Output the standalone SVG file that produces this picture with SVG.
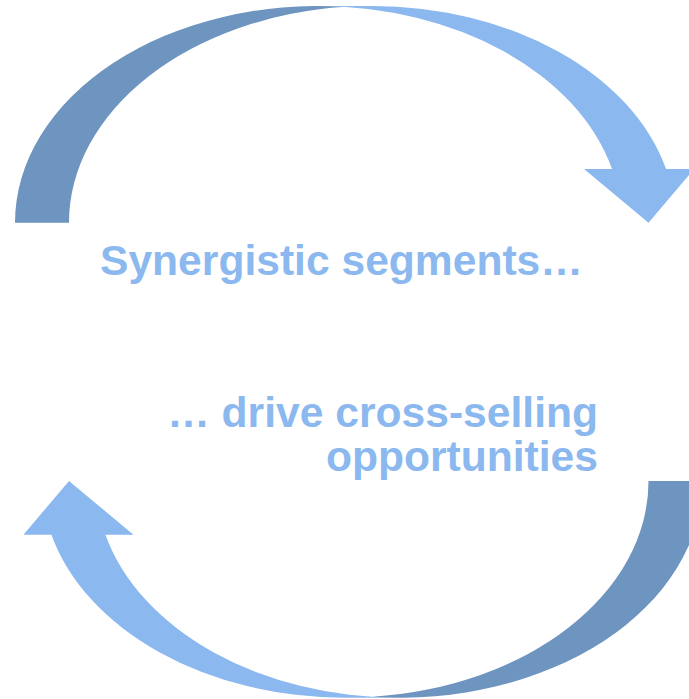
<svg xmlns="http://www.w3.org/2000/svg" width="689" height="699" viewBox="0 0 689 699">
  <style>
    .front { fill: #8BB8EE; }
    .back { fill: #6E94C0; }
    .label { font-family: "Liberation Sans", Arial, sans-serif; font-weight: bold; font-size: 42.6px; fill: #8BB8EE; }
  </style>
  <defs>
    <g id="curvedArrow">
      <path class="front" d="M 648.5 222.7 L 584.04 169 L 612.04 169 A 303.25 216.7 0 0 0 318.25 6 L 372.25 6 A 303.25 216.7 0 0 1 666.04 169 L 694.04 169 Z"/>
      <path class="back" d="M 345.25 6.86 A 303.25 216.7 0 0 0 69 222.7 L 15 222.7 A 303.25 216.7 0 0 1 345.25 6.86 Z"/>
    </g>
  </defs>
  <g id="connectors">
    <use id="arrow-top" href="#curvedArrow"/>
    <use id="arrow-bottom" href="#curvedArrow" transform="rotate(180 358.75 351.85)"/>
  </g>
  <g id="node-synergistic">
    <text class="label" x="100" y="275">Synergistic segments…</text>
  </g>
  <g id="node-cross-selling">
    <text class="label" text-anchor="end" x="598" y="427">… drive cross-selling</text>
    <text class="label" text-anchor="end" x="598" y="471">opportunities</text>
  </g>
</svg>
